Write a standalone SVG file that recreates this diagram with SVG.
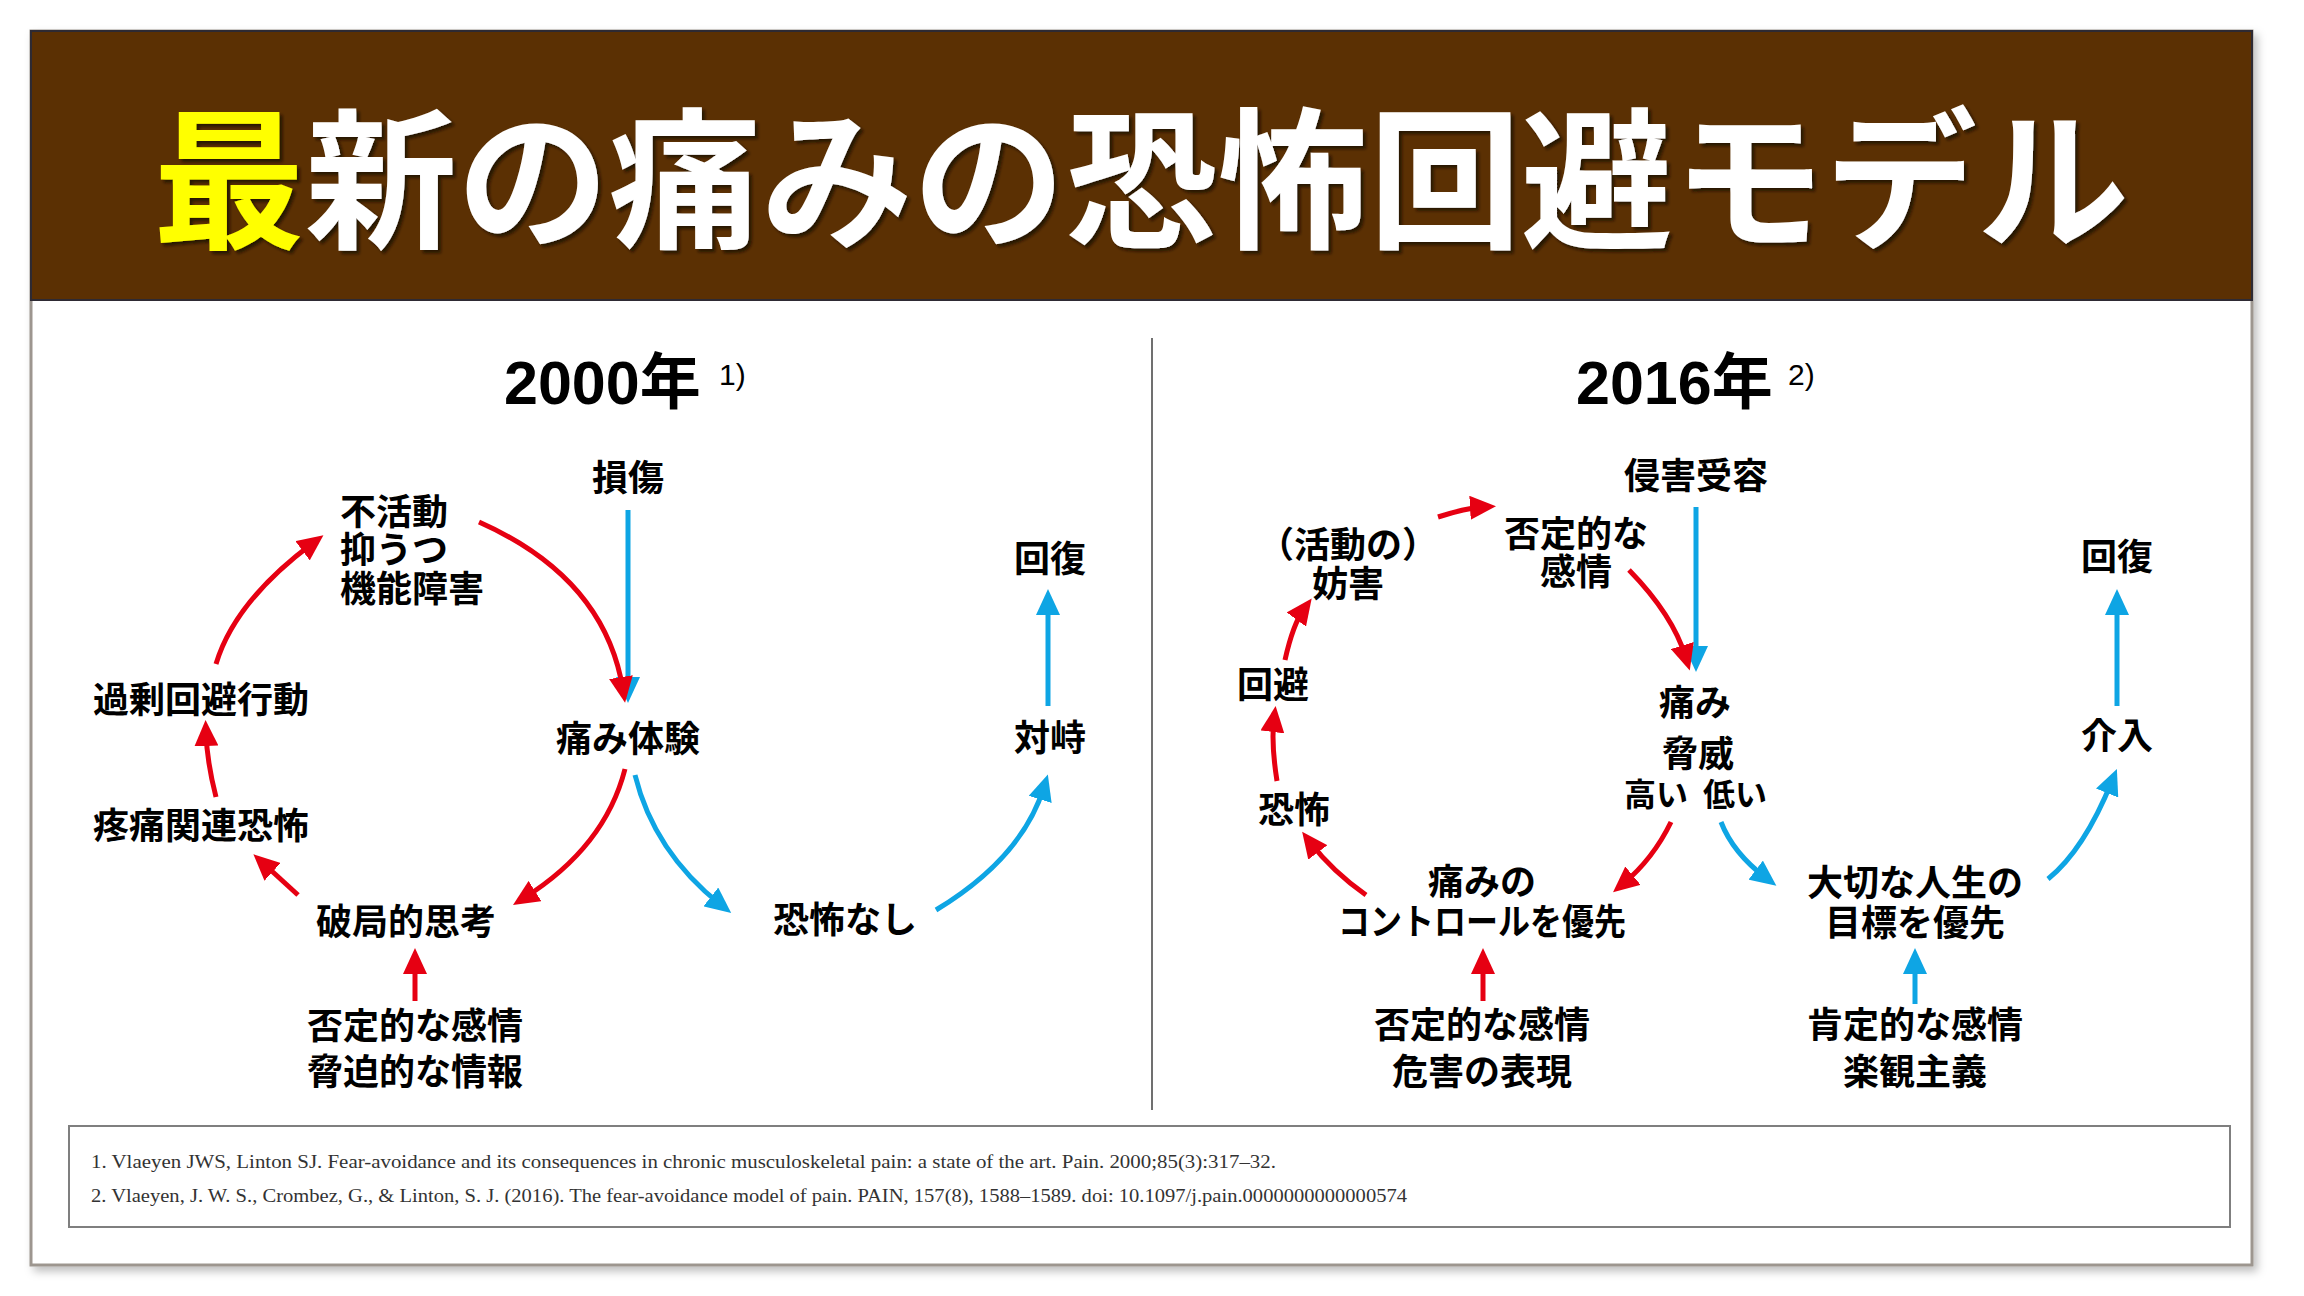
<svg xmlns="http://www.w3.org/2000/svg" width="2304" height="1296" viewBox="0 0 2304 1296">
<defs>
<style>
.n{font-family:"Noto Sans CJK JP","Noto Sans CJK SC",sans-serif;font-weight:700;font-size:36px;fill:#000;text-anchor:middle}
.nl{text-anchor:start}
.s{font-size:32px}
.ttl{font-family:"Noto Sans CJK JP","Noto Sans CJK SC",sans-serif;font-weight:700;font-size:152px;fill:#fff;text-anchor:middle}
.hd{font-family:"Liberation Sans","Noto Sans CJK JP",sans-serif;font-weight:700;font-size:61px;fill:#000}
.sup{font-family:"Liberation Sans",sans-serif;font-size:30px;fill:#000}
.fn{font-family:"Liberation Serif",serif;font-size:18px;fill:#333}
.r{fill:none;stroke:#E60012;stroke-width:5;marker-end:url(#ar)}
.b{fill:none;stroke:#0EA5E4;stroke-width:5;marker-end:url(#ab)}
</style>
<marker id="ar" markerUnits="userSpaceOnUse" markerWidth="26" markerHeight="24" viewBox="0 0 26 24" refX="13" refY="12" orient="auto"><path d="M0,0 L26,12 L0,24 z" fill="#E60012"/></marker>
<marker id="ab" markerUnits="userSpaceOnUse" markerWidth="26" markerHeight="24" viewBox="0 0 26 24" refX="13" refY="12" orient="auto"><path d="M0,0 L26,12 L0,24 z" fill="#0EA5E4"/></marker>
<filter id="sh" x="-5%" y="-5%" width="110%" height="110%"><feDropShadow dx="4" dy="5" stdDeviation="4" flood-color="#000" flood-opacity="0.25"/></filter>
<filter id="tsh" x="-5%" y="-10%" width="110%" height="130%"><feDropShadow dx="3" dy="3" stdDeviation="1.5" flood-color="#1a0d00" flood-opacity="0.8"/></filter>
</defs>
<rect width="2304" height="1296" fill="#fff"/>
<g id="slide">
<rect x="31" y="31" width="2221" height="1234" fill="#fff" stroke="#9d968f" stroke-width="3" filter="url(#sh)"/>
<rect x="31" y="31" width="2221" height="269" fill="#5b3003" stroke="#2e2a33" stroke-width="2"/>
<text class="ttl" x="1141" y="237" filter="url(#tsh)"><tspan fill="#FFFF00">最</tspan>新の痛みの恐怖回避モデル</text>
<line x1="1152" y1="338" x2="1152" y2="1110" stroke="#404040" stroke-width="1.5"/>
</g>
<g id="headings">
<text class="hd" x="504" y="404">2000年</text><text class="sup" x="719" y="385">1)</text>
<text class="hd" x="1576" y="404">2016年</text><text class="sup" x="1788" y="385">2)</text>
</g>
<g id="connectors">
<path class="b" d="M628,510 V690"/>
<path class="r" d="M479,522 Q605,578 623,690"/>
<path class="r" d="M625,769 Q605,847 524,898"/>
<path class="b" d="M635,775 Q654,852 721,905"/>
<path class="b" d="M936,910 Q1022,858 1044,787"/>
<path class="b" d="M1048,706 V602"/>
<path class="r" d="M298,895 L263,863"/>
<path class="r" d="M216,797 Q207,762 206,733"/>
<path class="r" d="M216,664 Q235,601 313,543"/>
<path class="r" d="M415,1001 V961"/>
<path class="b" d="M1696,507 V659"/>
<path class="r" d="M1438,517 Q1466,508 1483,507"/>
<path class="r" d="M1629,570 Q1673,615 1686,658"/>
<path class="r" d="M1671,822 Q1653,859 1623,884"/>
<path class="b" d="M1721,822 Q1733,853 1766,878"/>
<path class="b" d="M2048,879 Q2084,850 2112,781"/>
<path class="b" d="M2117,706 V602"/>
<path class="b" d="M1915,1004 V961"/>
<path class="r" d="M1483,1001 V961"/>
<path class="r" d="M1366,895 Q1332,871 1310,842"/>
<path class="r" d="M1277,781 Q1271,743 1274,719"/>
<path class="r" d="M1285,660 Q1293,624 1304,609"/>
</g>
<g id="n-injury"><text class="n" x="628" y="491">損傷</text></g>
<g id="n-inactivity"><text class="n nl" x="340" y="525">不活動</text><text class="n nl" x="340" y="563">抑うつ</text><text class="n nl" x="340" y="602">機能障害</text></g>
<g id="n-recovery1"><text class="n" x="1050" y="572">回復</text></g>
<g id="n-avoid1"><text class="n" x="201" y="713">過剰回避行動</text></g>
<g id="n-pain1"><text class="n" x="628" y="752">痛み体験</text></g>
<g id="n-confront"><text class="n" x="1050" y="751">対峙</text></g>
<g id="n-fear1"><text class="n" x="201" y="839">疼痛関連恐怖</text></g>
<g id="n-catastro"><text class="n" x="406" y="935">破局的思考</text></g>
<g id="n-nofear"><text class="n" x="845" y="933">恐怖なし</text></g>
<g id="n-neg1"><text class="n" x="415" y="1039">否定的な感情</text><text class="n" x="415" y="1085">脅迫的な情報</text></g>
<g id="n-nocic"><text class="n" x="1696" y="489">侵害受容</text></g>
<g id="n-negemo"><text class="n" x="1576" y="547">否定的な</text><text class="n" x="1576" y="585">感情</text></g>
<g id="n-interf"><text class="n" x="1348" y="558">（活動の）</text><text class="n" x="1348" y="597">妨害</text></g>
<g id="n-recovery2"><text class="n" x="2117" y="570">回復</text></g>
<g id="n-avoid2"><text class="n" x="1273" y="698">回避</text></g>
<g id="n-pain2"><text class="n" x="1695" y="716">痛み</text><text class="n" x="1698" y="767">脅威</text><text class="n s"><tspan x="1656" y="806">高い</tspan><tspan x="1735" y="806">低い</tspan></text></g>
<g id="n-interv"><text class="n" x="2117" y="749">介入</text></g>
<g id="n-fear2"><text class="n" x="1294" y="823">恐怖</text></g>
<g id="n-control"><text class="n" x="1482" y="895">痛みの</text><text class="n" x="1482" y="935" textLength="288" lengthAdjust="spacingAndGlyphs">コントロールを優先</text></g>
<g id="n-goals"><text class="n" x="1915" y="896">大切な人生の</text><text class="n" x="1915" y="936">目標を優先</text></g>
<g id="n-neg2"><text class="n" x="1482" y="1038">否定的な感情</text><text class="n" x="1482" y="1085">危害の表現</text></g>
<g id="n-pos"><text class="n" x="1915" y="1038">肯定的な感情</text><text class="n" x="1915" y="1085">楽観主義</text></g>
<g id="footnotes">
<rect x="69" y="1126" width="2161" height="101" fill="#fff" stroke="#7f7f7f" stroke-width="2"/>
<text class="fn" x="91" y="1168" textLength="1185" lengthAdjust="spacingAndGlyphs">1. Vlaeyen JWS, Linton SJ. Fear-avoidance and its consequences in chronic musculoskeletal pain: a state of the art. Pain. 2000;85(3):317–32.</text>
<text class="fn" x="91" y="1202" textLength="1316" lengthAdjust="spacingAndGlyphs">2. Vlaeyen, J. W. S., Crombez, G., &amp; Linton, S. J. (2016). The fear-avoidance model of pain. PAIN, 157(8), 1588–1589. doi: 10.1097/j.pain.0000000000000574</text>
</g>
</svg>
